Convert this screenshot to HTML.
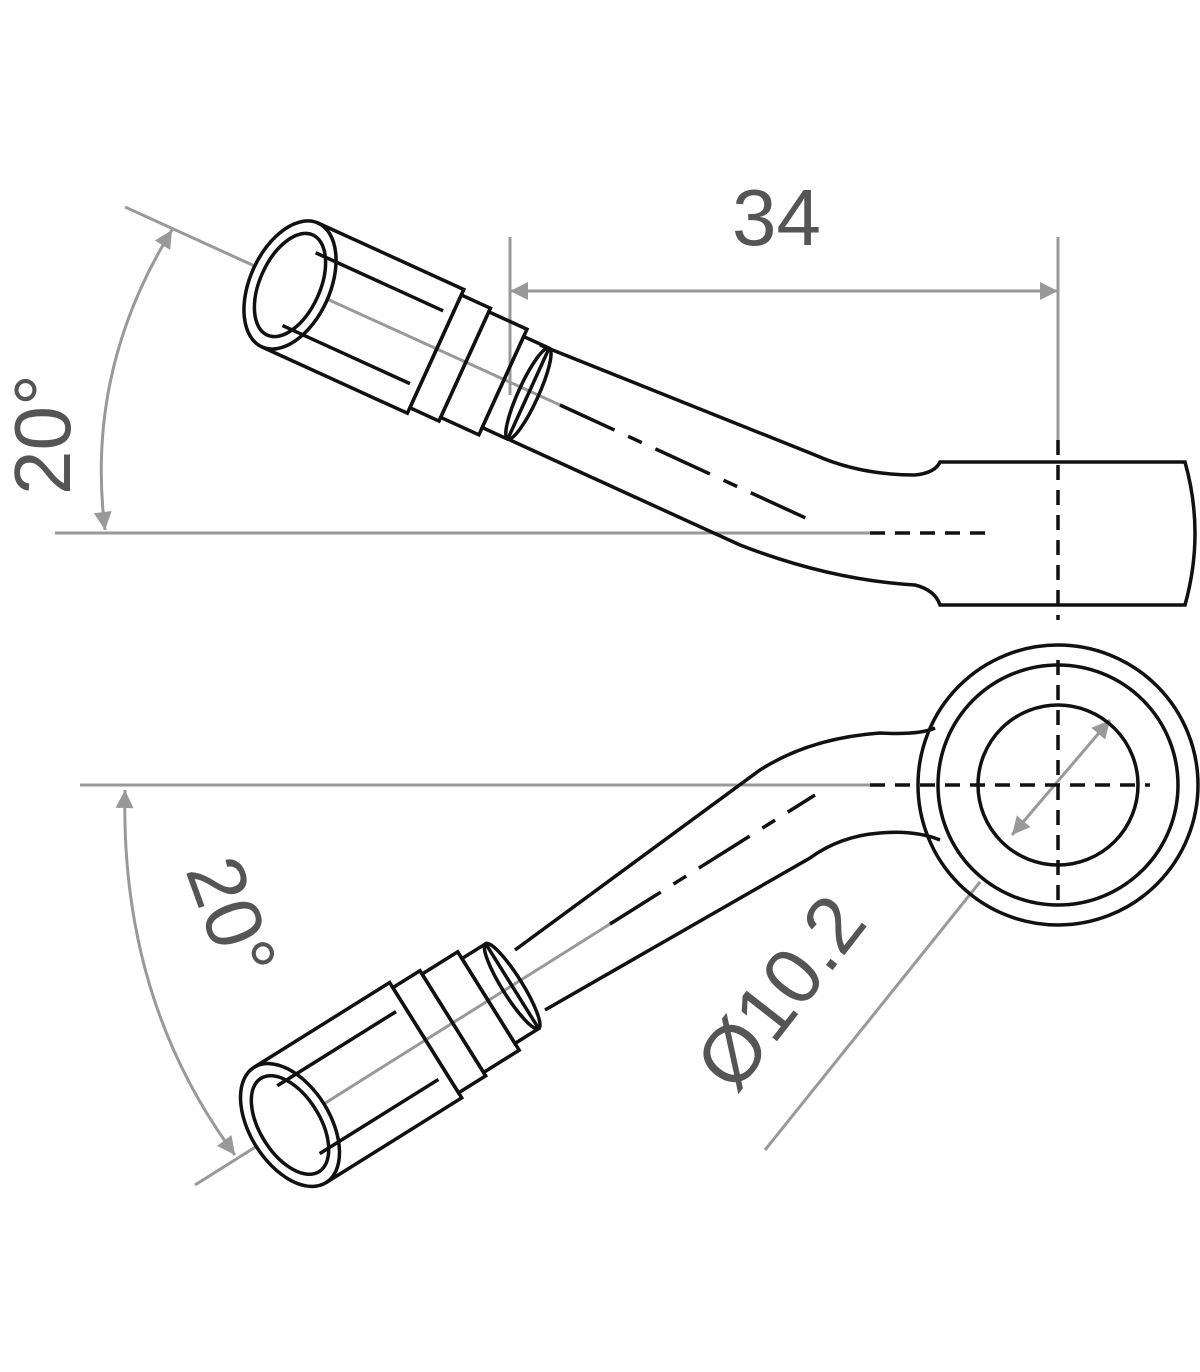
<!DOCTYPE html>
<html><head><meta charset="utf-8"><style>html,body{margin:0;padding:0;background:#fff}svg{display:block}</style></head>
<body>
<svg width="1200" height="1372" viewBox="0 0 1200 1372" xmlns="http://www.w3.org/2000/svg">
<defs>
<marker id="ar2" viewBox="0 0 10 10" refX="10" refY="5" markerWidth="44" markerHeight="18" markerUnits="userSpaceOnUse" orient="auto-start-reverse">
<path d="M0,0 L10,5 L0,10 z" fill="#999"/></marker>
</defs>
<g fill="none" stroke="#999" stroke-width="3">
<line x1="55" y1="533" x2="870" y2="533"/>
<line x1="125" y1="207" x2="560" y2="405"/>
<line x1="510" y1="237" x2="510" y2="395"/>
<line x1="1058" y1="237" x2="1058" y2="440"/>
<line x1="510" y1="291" x2="1058" y2="291" marker-start="url(#ar2)" marker-end="url(#ar2)"/>
<path d="M172,230 Q85,370 105,530" marker-start="url(#ar2)" marker-end="url(#ar2)"/>
<line x1="80" y1="785" x2="870" y2="785"/>
<line x1="195" y1="1185" x2="610" y2="924"/>
<path d="M125,790 Q120,1000 235,1155" marker-start="url(#ar2)" marker-end="url(#ar2)"/>
<line x1="765" y1="1150" x2="980" y2="882"/>
<line x1="1012" y1="835" x2="1110" y2="720" marker-start="url(#ar2)" marker-end="url(#ar2)"/>
</g>
<g fill="#555" font-family="Liberation Sans, sans-serif" font-size="80">
<text x="732" y="245">34</text>
<text transform="translate(70,495) rotate(-90)">20°</text>
<text transform="translate(185,870) rotate(70)">20°</text>
<text transform="translate(735,1095) rotate(-52)">Ø10.2</text>
</g>
<g fill="none" stroke="#111" stroke-width="3.5">
<path d="M540,345 L815,455 Q860,475 915,475 Q935,473 940,462 L1185,462 Q1205,533 1185,605 L940,605 Q935,590 915,585 Q830,580 740,545 L510,440"/>
<line x1="560" y1="405" x2="810" y2="520" stroke-dasharray="60,15,15,15"/>
<line x1="870" y1="533" x2="985" y2="533" stroke-dasharray="15,10"/>
<line x1="1058" y1="440" x2="1058" y2="620" stroke-dasharray="15,10"/>
<g transform="translate(290,285) rotate(24.5)">
<ellipse cx="0" cy="0" rx="40" ry="68" fill="#fff"/>
<ellipse cx="0" cy="0" rx="30" ry="55"/>
<path d="M0,-68 L160,-68 L160,68 L0,68"/>
<line x1="10" y1="-40" x2="150" y2="-40"/>
<line x1="10" y1="40" x2="150" y2="40"/>
<rect x="160" y="-62" width="32" height="124"/>
<rect x="192" y="-58" width="42" height="116"/>
<rect x="234" y="-50" width="28" height="100"/>
<ellipse cx="262" cy="0" rx="10" ry="50"/>
</g>
<circle cx="1058" cy="785" r="140"/>
<circle cx="1058" cy="785" r="120"/>
<circle cx="1058" cy="785" r="80"/>
<line x1="1058" y1="660" x2="1058" y2="905" stroke-dasharray="15,10"/>
<line x1="870" y1="785" x2="1150" y2="785" stroke-dasharray="15,10"/>
<path d="M935,728 Q920,735 880,733 Q810,738 760,770 L515,950"/>
<path d="M940,840 Q915,830 880,833 Q840,836 810,858 L545,1010"/>
<line x1="610" y1="924" x2="815" y2="795" stroke-dasharray="60,15,15,15"/>
<g transform="translate(290,1125) rotate(-32)">
<ellipse cx="0" cy="0" rx="40" ry="68" fill="#fff"/>
<ellipse cx="0" cy="0" rx="30" ry="55"/>
<path d="M0,-68 L160,-68 L160,68 L0,68"/>
<line x1="10" y1="-40" x2="150" y2="-40"/>
<line x1="10" y1="40" x2="150" y2="40"/>
<rect x="160" y="-62" width="32" height="124"/>
<rect x="192" y="-58" width="42" height="116"/>
<rect x="234" y="-50" width="28" height="100"/>
<ellipse cx="262" cy="0" rx="10" ry="50"/>
</g>
</g>
</svg>
</body></html>
